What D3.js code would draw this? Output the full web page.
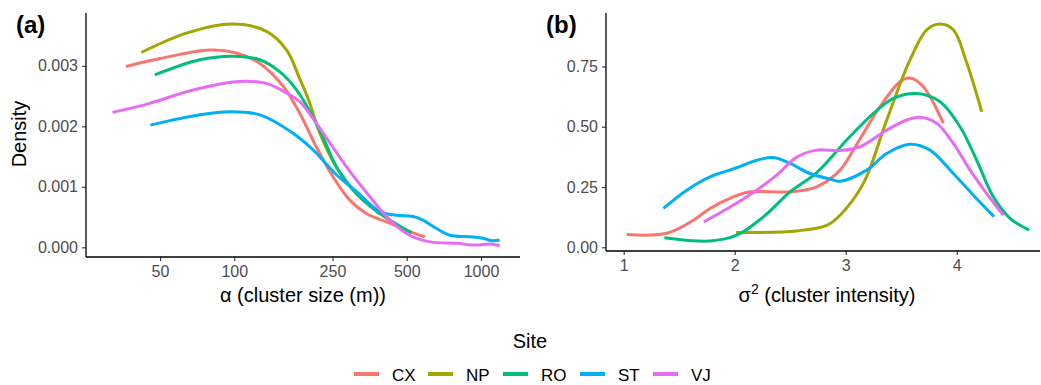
<!DOCTYPE html>
<html>
<head>
<meta charset="utf-8">
<script src="https://cdn.jsdelivr.net/npm/d3@7"></script>
<style>
  body { margin: 0; background: #fff; }
  svg text { font-family: "Liberation Sans", Arial, sans-serif; }
</style>
</head>
<body>
<div id="chart"></div>
<script>
var sites = ["CX", "NP", "RO", "ST", "VJ"];
var siteColors = ["#F8766D", "#A3A500", "#00BF7D", "#00B0F6", "#E76BF3"];

// panel (a): alpha (cluster size, m) vs density
var alphaCX = [[36.4, 0.00299], [50, 0.00312], [79.5, 0.00326], [100, 0.00322], [127, 0.00304], [158, 0.00266], [184, 0.00222], [215, 0.00166], [251, 0.00117], [294, 0.00078], [343, 0.00056], [427, 0.00040], [514, 0.00026], [592, 0.000175]];
var alphaNP = [[42, 0.00322], [64, 0.00354], [98, 0.00369], [135, 0.00357], [163, 0.00326], [184, 0.00279], [200, 0.00244], [222, 0.00189], [259.5, 0.00132], [313, 0.00088], [389, 0.00055]];
var alphaRO = [[47.6, 0.00285], [72.5, 0.00310], [98.6, 0.00316], [127, 0.00310], [153, 0.00290], [179, 0.00260], [222, 0.00194], [259.5, 0.00133], [313, 0.00089], [389, 0.00056], [523, 0.00024]];
var alphaST = [[45.7, 0.00202], [72.5, 0.00219], [95.9, 0.00224], [127, 0.00219], [172.6, 0.00189], [208.6, 0.00161], [259.5, 0.00120], [313, 0.00092], [389, 0.00059], [454, 0.00053], [530, 0.00051], [582, 0.00045], [660, 0.00031], [747, 0.00020], [900, 0.000175], [1019, 0.00015], [1103, 0.00011], [1191, 0.00012]];
var alphaVJ = [[32.1, 0.00223], [45.4, 0.00238], [68, 0.00260], [105, 0.00274], [135, 0.00271], [163, 0.00255], [184, 0.00241], [222, 0.00197], [285, 0.00133], [354, 0.00084], [427, 0.00045], [514, 0.00020], [620, 0.00009], [795, 0.000066], [958, 0.000038], [1080, 0.000055], [1191, 0.000026]];

// panel (b): sigma^2 (cluster intensity) vs density
var sigmaCX = [[1.027, 0.053], [1.387, 0.058], [1.627, 0.112], [1.777, 0.161], [1.987, 0.209], [2.138, 0.230], [2.498, 0.230], [2.739, 0.251], [2.949, 0.320], [3.068, 0.403], [3.309, 0.583], [3.489, 0.687], [3.579, 0.702], [3.699, 0.666], [3.879, 0.514]];
var sigmaNP = [[2.012, 0.061], [2.559, 0.068], [2.829, 0.091], [2.949, 0.133], [3.159, 0.265], [3.369, 0.528], [3.579, 0.777], [3.730, 0.902], [3.850, 0.926], [3.969, 0.902], [4.090, 0.765], [4.225, 0.562]];
var sigmaRO = [[1.366, 0.040], [1.777, 0.026], [2.018, 0.050], [2.258, 0.126], [2.498, 0.230], [2.739, 0.310], [3.009, 0.445], [3.249, 0.555], [3.429, 0.618], [3.640, 0.638], [3.850, 0.604], [4.030, 0.500], [4.180, 0.361], [4.330, 0.209], [4.480, 0.120], [4.652, 0.071]];
var sigmaST = [[1.357, 0.161], [1.568, 0.237], [1.777, 0.292], [2.018, 0.330], [2.198, 0.361], [2.348, 0.372], [2.498, 0.348], [2.678, 0.306], [2.859, 0.283], [2.949, 0.274], [3.189, 0.320], [3.369, 0.389], [3.579, 0.427], [3.759, 0.403], [3.969, 0.306], [4.150, 0.216], [4.336, 0.127]];
var sigmaVJ = [[1.721, 0.105], [1.958, 0.167], [2.198, 0.237], [2.378, 0.299], [2.559, 0.374], [2.739, 0.403], [2.949, 0.401], [3.129, 0.417], [3.369, 0.486], [3.550, 0.528], [3.669, 0.539], [3.820, 0.514], [3.969, 0.431], [4.120, 0.320], [4.270, 0.223], [4.420, 0.133]];

var alphaTicks = [50, 100, 250, 500, 1000];
var alphaDensityTicks = [0, 0.001, 0.002, 0.003];
var sigmaTicks = [1, 2, 3, 4];
var sigmaDensityTicks = [0, 0.25, 0.5, 0.75];

var W = 1041, H = 385;
var svg = d3.select("#chart").append("svg")
  .attr("width", W)
  .attr("height", H);

var tickCol = "#4D4D4D";

function drawPanel(opts) {
  var g = svg.append("g");
  var x = opts.x, y = opts.y;

  // lines first
  var line = d3.line()
    .x(function (d) { return x(d[0]); })
    .y(function (d) { return y(d[1]); })
    .curve(d3.curveCatmullRom.alpha(0.5));

  g.selectAll("path.dens")
    .data(opts.series)
    .enter().append("path")
    .attr("class", "dens")
    .attr("d", function (d) { return line(d); })
    .attr("fill", "none")
    .attr("stroke", function (d, i) { return siteColors[i]; })
    .attr("stroke-width", 3);

  var x0 = x.range()[0], x1 = x.range()[1];
  var y0 = y.range()[0], y1 = y.range()[1];

  // x axis
  var xa = g.append("g").attr("transform", "translate(0," + y0 + ")")
    .call(d3.axisBottom(x).tickValues(opts.xTicks).tickSize(4).tickPadding(5).tickFormat(opts.xFormat));
  xa.select(".domain").remove();
  xa.selectAll(".tick line").attr("stroke", "#333").attr("stroke-width", 1.1);
  xa.selectAll(".tick text").attr("fill", tickCol).attr("font-size", 16)
    .attr("font-family", "Liberation Sans, Arial, sans-serif");
  g.append("line").attr("x1", x0).attr("x2", x1).attr("y1", y0).attr("y2", y0)
    .attr("stroke", "#000").attr("stroke-width", 1.3);

  // y axis
  var ya = g.append("g").attr("transform", "translate(" + x0 + ",0)")
    .call(d3.axisLeft(y).tickValues(opts.yTicks).tickSize(4).tickPadding(4).tickFormat(opts.yFormat));
  ya.select(".domain").remove();
  ya.selectAll(".tick line").attr("stroke", "#333").attr("stroke-width", 1.1);
  ya.selectAll(".tick text").attr("fill", tickCol).attr("font-size", 16)
    .attr("font-family", "Liberation Sans, Arial, sans-serif");
  g.append("line").attr("x1", x0).attr("x2", x0).attr("y1", y0).attr("y2", y1)
    .attr("stroke", "#000").attr("stroke-width", 1.3);

  // panel tag
  g.append("text")
    .attr("x", opts.tagX).attr("y", 33)
    .attr("font-size", 24).attr("font-weight", "bold")
    .text(opts.tag);

  return g;
}

// panel (a)
var xA = d3.scaleLog().domain([25.06, 1439]).range([86, 520]);
var yA = d3.scaleLinear().domain([-0.00016, 0.003873]).range([257, 13]);
var gA = drawPanel({
  x: xA, y: yA,
  series: [alphaCX, alphaNP, alphaRO, alphaST, alphaVJ],
  xTicks: alphaTicks, yTicks: alphaDensityTicks,
  xFormat: d3.format("d"), yFormat: d3.format(".3f"),
  tag: "(a)", tagX: 16
});
gA.append("text")
  .attr("x", 303).attr("y", 302)
  .attr("text-anchor", "middle").attr("font-size", 20)
  .text("\u03b1 (cluster size (m))");
gA.append("text")
  .attr("transform", "translate(26,134) rotate(-90)")
  .attr("text-anchor", "middle").attr("font-size", 20)
  .text("Density");

// panel (b)
var xB = d3.scaleLinear().domain([0.8405, 4.75]).range([606, 1040]);
var yB = d3.scaleLinear().domain([-0.0154, 0.9718]).range([251, 13]);
var gB = drawPanel({
  x: xB, y: yB,
  series: [sigmaCX, sigmaNP, sigmaRO, sigmaST, sigmaVJ],
  xTicks: sigmaTicks, yTicks: sigmaDensityTicks,
  xFormat: d3.format("d"), yFormat: d3.format(".2f"),
  tag: "(b)", tagX: 546
});
var tB = gB.append("text")
  .attr("x", 827).attr("y", 302)
  .attr("text-anchor", "middle").attr("font-size", 20);
tB.append("tspan").text("\u03c3");
tB.append("tspan").attr("dy", -8).attr("font-size", 14).text("2");
tB.append("tspan").attr("dy", 8).text(" (cluster intensity)");

// legend
var leg = svg.append("g");
leg.append("text")
  .attr("x", 530).attr("y", 348)
  .attr("text-anchor", "middle").attr("font-size", 20)
  .text("Site");

var legX = [354, 428, 503, 580, 653];
var item = leg.selectAll("g.item")
  .data(sites)
  .enter().append("g")
  .attr("class", "item")
  .attr("transform", function (d, i) { return "translate(" + legX[i] + ",374)"; });
item.append("line")
  .attr("x1", 0).attr("x2", 25)
  .attr("stroke", function (d, i) { return siteColors[i]; })
  .attr("stroke-width", 4);
item.append("text")
  .attr("x", 38).attr("y", 6.5)
  .attr("font-size", 17)
  .text(function (d) { return d; });
</script>
</body>
</html>
